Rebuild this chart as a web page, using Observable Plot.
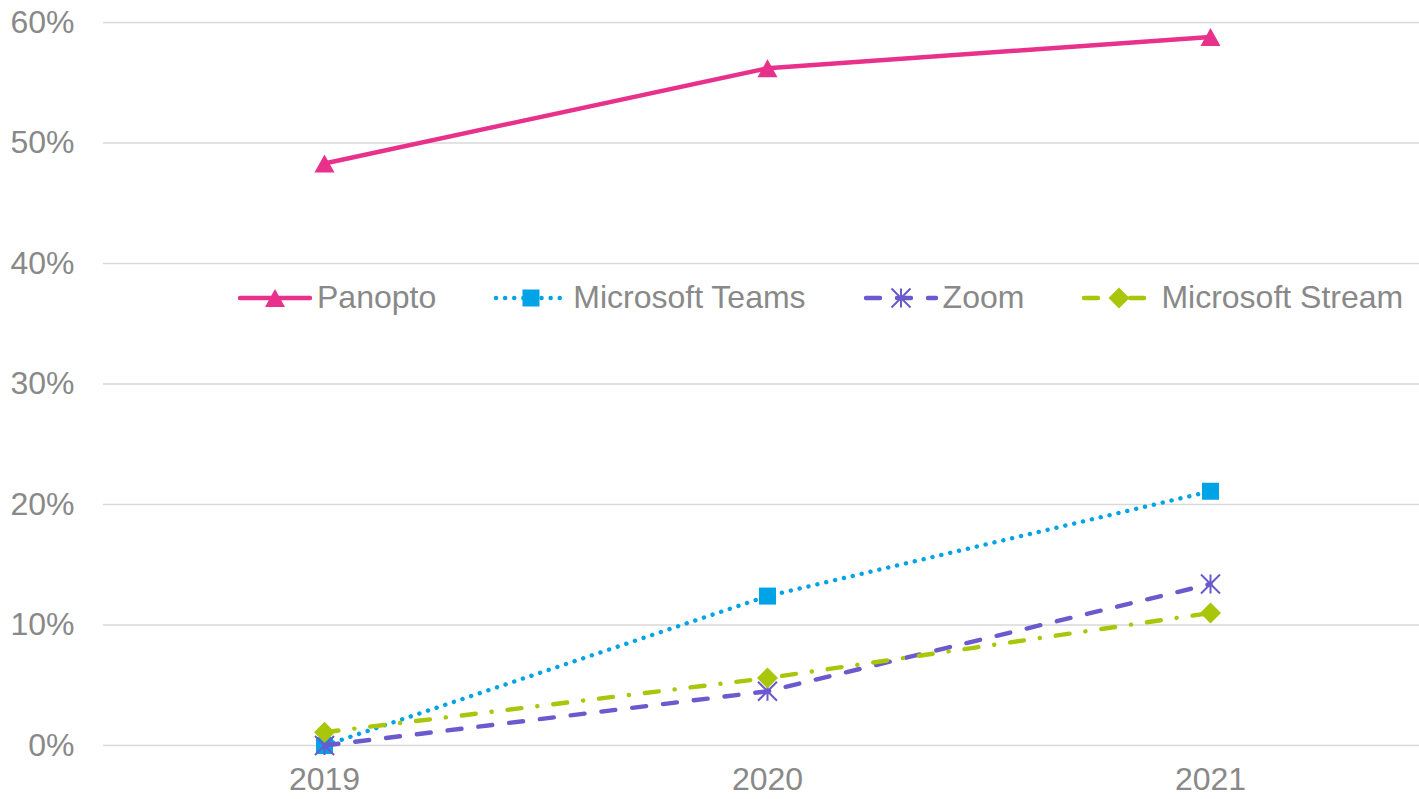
<!DOCTYPE html>
<html>
<head>
<meta charset="utf-8">
<script src="https://cdn.jsdelivr.net/npm/d3@7"></script>
<script src="https://cdn.jsdelivr.net/npm/@observablehq/plot@0.6"></script>
<style>
  html, body { margin: 0; padding: 0; background: #fff; overflow: hidden; }
  #wrap { position: relative; width: 1419px; height: 799px; font-family: "Liberation Sans", Arial, sans-serif; }
  #legend { position: absolute; left: 240px; top: 279px; display: flex; gap: 60px; align-items: center; }
  .item { display: flex; align-items: center; gap: 7px; font-size: 32px; color: #898989; white-space: nowrap; }
  .item svg { display: block; overflow: visible; }
</style>
</head>
<body>
<div id="wrap"><div id="legend"></div></div>
<script>
// ---- data ----
const years = ["2019", "2020", "2021"];
const seriesNames = ["Panopto", "Microsoft Teams", "Zoom", "Microsoft Stream"];
const panopto = [0.483, 0.562, 0.588];
const teams = [0.0, 0.124, 0.211];
const zoom = [0.0, 0.045, 0.134];
const stream = [0.011, 0.056, 0.110];
const yTicks = [0, 0.1, 0.2, 0.3, 0.4, 0.5, 0.6];

// ---- custom marker shapes (Excel-like) ----
const rOf = size => Math.sqrt(size / Math.PI);
const triangleSym = { draw(c, size) { const r = rOf(size); c.moveTo(0, -0.9 * r); c.lineTo(r, 0.9 * r); c.lineTo(-r, 0.9 * r); c.closePath(); } };
const squareSym = { draw(c, size) { const r = rOf(size) * 0.85; c.moveTo(-r, -r); c.lineTo(r, -r); c.lineTo(r, r); c.lineTo(-r, r); c.closePath(); } };
const diamondSym = { draw(c, size) { const r = rOf(size) * 1.05; c.moveTo(0, -r); c.lineTo(r, 0); c.lineTo(0, r); c.lineTo(-r, 0); c.closePath(); } };
const starSym = { draw(c, size) { const r = rOf(size) * 0.95; c.moveTo(0, -r); c.lineTo(0, r); c.moveTo(-r, -r); c.lineTo(r, r); c.moveTo(-r, r); c.lineTo(r, -r); } };

const styles = [
  { name: seriesNames[0], values: panopto, color: "#e8318b", dash: null, cap: "round", sym: triangleSym, filled: true },
  { name: seriesNames[1], values: teams, color: "#00a3e6", dash: "0.1 9", cap: "round", sym: squareSym, filled: true },
  { name: seriesNames[2], values: zoom, color: "#6a5acd", dash: "14 17", cap: "round", sym: starSym, filled: false },
  { name: seriesNames[3], values: stream, color: "#a9c60a", dash: "14 16 0.1 16", cap: "round", sym: diamondSym, filled: true }
];

const marks = [
  Plot.ruleY(yTicks, { stroke: "#d9d9d9", strokeWidth: 1.5 })
];
for (const s of styles) {
  const rows = years.map((yr, i) => ({ year: yr, value: s.values[i], series: s.name }));
  marks.push(Plot.line(rows, {
    x: "year", y: "value", stroke: s.color, strokeWidth: 4.4,
    strokeDasharray: s.dash || undefined, strokeLinecap: s.cap, strokeLinejoin: "round"
  }));
  marks.push(Plot.dot(rows, s.filled
    ? { x: "year", y: "value", symbol: s.sym, r: 10, fill: s.color, stroke: "none" }
    : { x: "year", y: "value", symbol: s.sym, r: 10, fill: "none", stroke: s.color, strokeWidth: 2 }));
}
marks.push(Plot.axisY({ ticks: yTicks, tickFormat: d3.format(".0%"), tickSize: 0, tickPadding: 29, label: null }));
marks.push(Plot.axisX({ tickSize: 0, tickPadding: 22, label: null }));

const chart = Plot.plot({
  width: 1419,
  height: 799,
  marginLeft: 103,
  marginRight: 0,
  marginTop: 22,
  marginBottom: 54,
  style: { fontSize: "32px", fontFamily: "'Liberation Sans', Arial, sans-serif", color: "#898989", background: "#fff", overflow: "visible" },
  x: { type: "point", domain: years, range: [324, 1210], padding: 0 },
  y: { domain: [0, 0.6] },
  marks
});
document.getElementById("wrap").prepend(chart);

// ---- legend (overlaid inside plot area, as in the original) ----
const legend = d3.select("#legend");
for (const s of styles) {
  const item = legend.append("div").attr("class", "item");
  const svg = item.append("svg").attr("width", 70).attr("height", 24);
  svg.append("line").attr("x1", 0).attr("x2", 70).attr("y1", 12).attr("y2", 12)
    .attr("stroke", s.color).attr("stroke-width", 4.4)
    .attr("stroke-linecap", s.cap)
    .attr("stroke-dasharray", s.dash || null);
  const path = d3.symbol(s.sym, Math.PI * 100)();
  const p = svg.append("path").attr("d", path).attr("transform", "translate(35,12)");
  if (s.filled) p.attr("fill", s.color);
  else p.attr("fill", "none").attr("stroke", s.color).attr("stroke-width", 2);
  item.append("span").text(s.name);
}
</script>
</body>
</html>
